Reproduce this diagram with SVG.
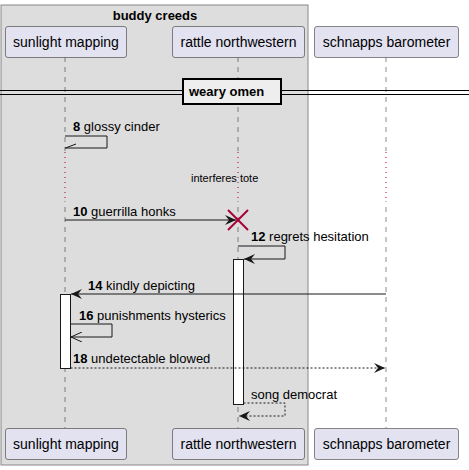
<svg xmlns="http://www.w3.org/2000/svg" width="469" height="470" viewBox="0 0 469 470">
<defs>
<style>
.t{font-family:"Liberation Sans",Arial,sans-serif;fill:#000}
.p{fill:#E2E2F0;stroke:#181818;stroke-width:0.5}
.ll{stroke:#181818;stroke-width:0.5;stroke-dasharray:5,5;fill:none}
.dl{stroke:#A80036;stroke-width:1;stroke-dasharray:1,4;fill:none}
.m{stroke:#181818;stroke-width:1;fill:none}
.md{stroke:#181818;stroke-width:1;fill:none;stroke-dasharray:2,2}
.act{fill:#FFFFFF;stroke:#181818;stroke-width:1}
</style>
<marker id="ah" viewBox="0 0 12 10" refX="11" refY="5" markerWidth="12" markerHeight="10" markerUnits="userSpaceOnUse" orient="auto">
<path d="M0,0 L11,5 L0,10 L4,5 Z" fill="#181818"/>
</marker>
<marker id="oh" viewBox="0 0 12 10" refX="11" refY="5" markerWidth="12" markerHeight="10" markerUnits="userSpaceOnUse" orient="auto">
<path d="M0,0 L11,5 L0,10" fill="none" stroke="#181818" stroke-width="1"/>
</marker>
</defs>
<rect width="469" height="470" fill="#FFFFFF"/>
<g id="group-buddy-creeds">
<rect x="1" y="5" width="307" height="460" fill="#DDDDDD" stroke="#888888" stroke-width="1"/>
<text class="t" x="155" y="19.5" font-size="13" font-weight="bold" text-anchor="middle">buddy creeds</text>
</g>
<g id="lifelines">
<line class="ll" x1="65" y1="57" x2="65" y2="428"/>
<line class="ll" x1="238" y1="57" x2="238" y2="428"/>
<line class="ll" x1="386" y1="57" x2="386" y2="428"/>
<rect x="50" y="150" width="350" height="52" fill="#DDDDDD" opacity="0"/>
</g>
<g id="delay">
<rect x="62" y="151" width="6" height="50" fill="#DDDDDD"/>
<rect x="235" y="151" width="6" height="50" fill="#DDDDDD"/>
<rect x="383" y="151" width="6" height="50" fill="#FFFFFF"/>
<line class="dl" x1="65" y1="152" x2="65" y2="200"/>
<line class="dl" x1="238" y1="152" x2="238" y2="200"/>
<line class="dl" x1="386" y1="152" x2="386" y2="200"/>
<text class="t" x="191" y="182" font-size="11">interferes tote</text>
</g>
<g id="divider-weary-omen">
<line x1="0" y1="90.5" x2="469" y2="90.5" stroke="#000" stroke-width="1"/>
<line x1="0" y1="94.5" x2="469" y2="94.5" stroke="#000" stroke-width="1"/>
<rect x="183" y="79" width="98" height="25" fill="#EEEEEE" stroke="#000" stroke-width="2"/>
<text class="t" x="189" y="96" font-size="13" font-weight="bold">weary omen</text>
</g>
<g id="activations">
<rect class="act" x="233.5" y="259.5" width="10" height="145"/>
<rect class="act" x="60.5" y="294.5" width="10" height="74"/>
</g>
<g id="connectors">
<polyline class="m" points="65,136 107,136 107,148 65,148"/>
<line x1="65.5" y1="148" x2="76" y2="144" stroke="#181818" stroke-width="1"/>
<line class="m" x1="65" y1="220" x2="236" y2="220" marker-end="url(#ah)"/>
<polyline class="m" points="238,246 285,246 285,259 244,259" marker-end="url(#ah)"/>
<line class="m" x1="386" y1="294" x2="71" y2="294" marker-end="url(#ah)"/>
<polyline class="m" points="70.5,324 112,324 112,337 71,337" marker-end="url(#oh)"/>
<line class="md" x1="70.5" y1="368" x2="385" y2="368" marker-end="url(#ah)"/>
<polyline class="md" points="243.5,403 285,403 285,416 239,416" marker-end="url(#ah)"/>
</g>
<g id="destroy">
<line x1="228" y1="210" x2="248" y2="230" stroke="#A80036" stroke-width="2"/>
<line x1="248" y1="210" x2="228" y2="230" stroke="#A80036" stroke-width="2"/>
</g>
<g id="labels">
<text class="t" x="73" y="131" font-size="13"><tspan font-weight="bold">8</tspan> glossy cinder</text>
<text class="t" x="73" y="216" font-size="13"><tspan font-weight="bold">10</tspan> guerrilla honks</text>
<text class="t" x="251" y="241" font-size="13"><tspan font-weight="bold">12</tspan> regrets hesitation</text>
<text class="t" x="88" y="290" font-size="13"><tspan font-weight="bold">14</tspan> kindly depicting</text>
<text class="t" x="79" y="320" font-size="13"><tspan font-weight="bold">16</tspan> punishments hysterics</text>
<text class="t" x="73" y="363" font-size="13"><tspan font-weight="bold">18</tspan> undetectable blowed</text>
<text class="t" x="251" y="399" font-size="13">song democrat</text>
</g>
<g id="p-sunlight-mapping">
<rect class="p" x="5.5" y="26.5" width="121" height="31" rx="2.5"/>
<text class="t" x="66" y="47" font-size="14" text-anchor="middle">sunlight mapping</text>
<rect class="p" x="5.5" y="428.5" width="121" height="31" rx="2.5"/>
<text class="t" x="66" y="449" font-size="14" text-anchor="middle">sunlight mapping</text>
</g>
<g id="p-rattle-northwestern">
<rect class="p" x="172.5" y="26.5" width="132" height="31" rx="2.5"/>
<text class="t" x="238.5" y="47" font-size="14" text-anchor="middle">rattle northwestern</text>
<rect class="p" x="172.5" y="428.5" width="132" height="31" rx="2.5"/>
<text class="t" x="238.5" y="449" font-size="14" text-anchor="middle">rattle northwestern</text>
</g>
<g id="p-schnapps-barometer">
<rect class="p" x="314.5" y="26.5" width="144" height="31" rx="2.5"/>
<text class="t" x="386.5" y="47" font-size="14" text-anchor="middle">schnapps barometer</text>
<rect class="p" x="314.5" y="428.5" width="144" height="31" rx="2.5"/>
<text class="t" x="386.5" y="449" font-size="14" text-anchor="middle">schnapps barometer</text>
</g>
</svg>
